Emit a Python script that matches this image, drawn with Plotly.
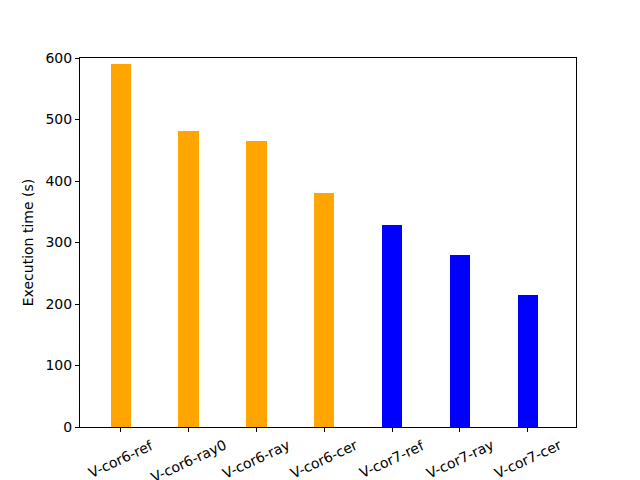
import plotly.graph_objects as go

configs = ["V-cor6-ref", "V-cor6-ray0", "V-cor6-ray", "V-cor6-cer",
           "V-cor7-ref", "V-cor7-ray", "V-cor7-cer"]
exec_times = [590, 481, 465, 380, 328, 280, 215]
bar_colors = ["orange", "orange", "orange", "orange", "blue", "blue", "blue"]

positions = list(range(len(configs)))
label_font = dict(family="DejaVu Sans", size=14, color="black")

fig = go.Figure(
    go.Bar(
        x=positions,
        y=exec_times,
        width=0.3,
        marker=dict(color=bar_colors, line=dict(width=0)),
    )
)

axis_common = dict(
    showline=True, mirror=True, linecolor="black", linewidth=1,
    ticks="outside", ticklen=4, tickcolor="black", tickwidth=1,
    showgrid=False, zeroline=False, tickfont=label_font,
)

# rotated labels centred under each tick, matplotlib style
fig.update_xaxes(
    tickvals=positions, showticklabels=False,
    range=[-0.6, 6.71], **axis_common
)
for pos, name in zip(positions, configs):
    fig.add_annotation(
        x=pos, y=0, xref="x", yref="paper",
        text=name, showarrow=False, textangle=-25,
        xanchor="center", yanchor="top", yshift=-7,
        font=label_font,
    )

fig.update_yaxes(
    range=[0, 600], tickvals=[0, 100, 200, 300, 400, 500, 600],
    title=dict(text="Execution time (s)", font=label_font, standoff=8),
    **axis_common
)

# page body has an 8px margin, so the figure is drawn 8px smaller
fig.update_layout(
    width=632, height=472,
    margin=dict(l=72, r=64, t=50, b=53, autoexpand=False),
    plot_bgcolor="white", paper_bgcolor="white",
    showlegend=False, bargap=0,
)

fig.write_html("out.html")
